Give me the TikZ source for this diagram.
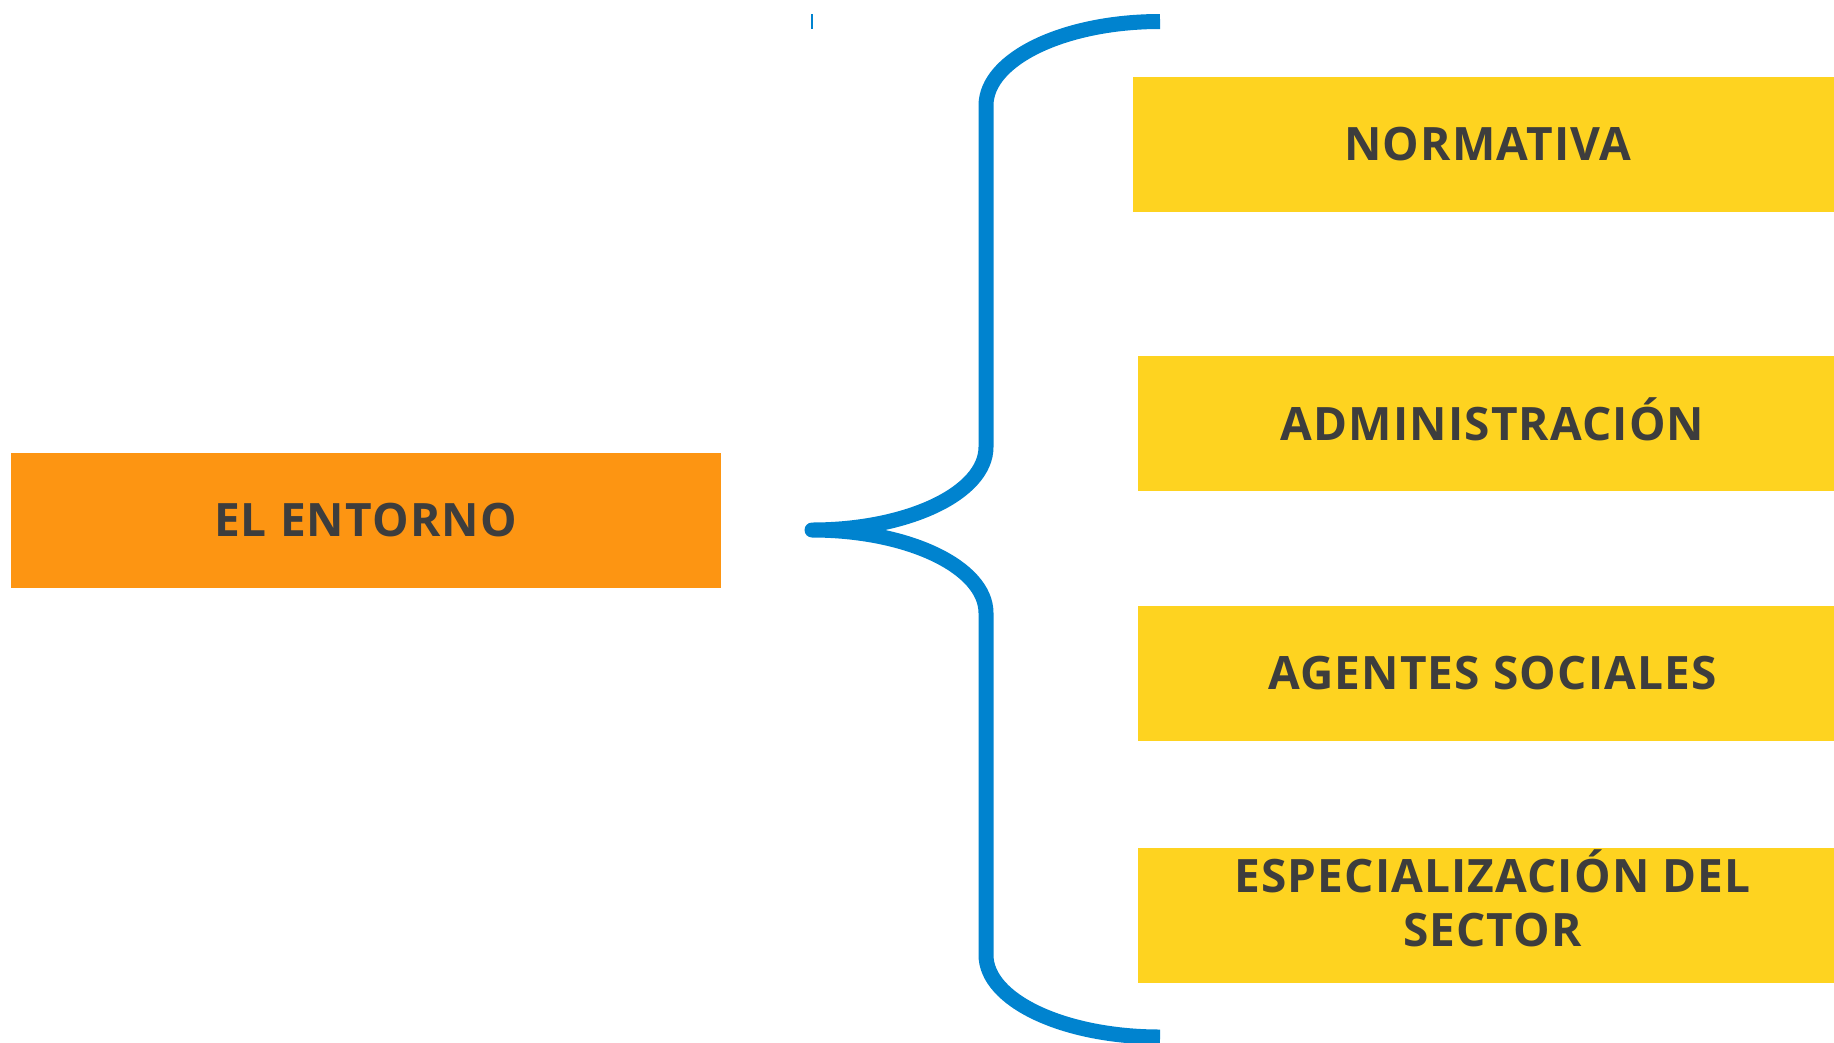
\documentclass[tikz,border=0pt]{standalone}
\usepackage{fontspec}
\setmainfont{Open Sans}[LetterSpace=2.5]
\definecolor{entorno}{HTML}{FD9512}
\definecolor{amarillo}{HTML}{FED320}
\definecolor{llave}{HTML}{0083CF}
\definecolor{textogris}{HTML}{3D3D3D}

\begin{document}
\begin{tikzpicture}[x=1pt, y=-1pt]
	\tikzstyle{every node}=[inner sep=0pt, align=center, text=textogris, font=\bfseries\fontsize{46}{54}\selectfont]
	\tikzstyle{caja}=[minimum width=710pt, minimum height=135pt, text height=33pt, text depth=0pt]
	\useasboundingbox (0,0) rectangle (1834,1042);
	\clip (0,0) rectangle (1834,1042);
	% left box
	\node[caja, fill=entorno] (entorno) at (365.5, 520.2) {EL ENTORNO};
	% right boxes
	\node[caja, fill=amarillo] (normativa) at (1487.8, 144.2) {NORMATIVA};
	\node[caja, fill=amarillo] (admin) at (1492.5, 423.8) {ADMINISTRACIÓN};
	\node[caja, fill=amarillo] (agentes) at (1492.5, 673.2) {AGENTES SOCIALES};
	\node[caja, fill=amarillo] (sector) at (1492.5, 915) {};
	\node (sectortxt) at (1492.5, 898) {ESPECIALIZACIÓN DEL\\SECTOR};
	% brace
	\coordinate (tip) at (812, 530);
	\coordinate (arriba) at (1160, 21.5);
	\coordinate (abajo) at (1160, 1037);
	\draw[llave, line width=15pt, line join=round] (arriba)
		.. controls (1063.9, 21.5) and (986, 59.1) .. (986, 105.5)
		-- (986, 447)
		.. controls (986, 492.8) and (908.1, 530) .. (tip)
		.. controls (908.1, 530) and (986, 567.2) .. (986, 613)
		-- (986, 955)
		.. controls (986, 1000.3) and (1063.9, 1037) .. (abajo);
	\draw[llave, line width=1.3pt] (812, 14) -- (812, 29);
\end{tikzpicture}
\end{document}
